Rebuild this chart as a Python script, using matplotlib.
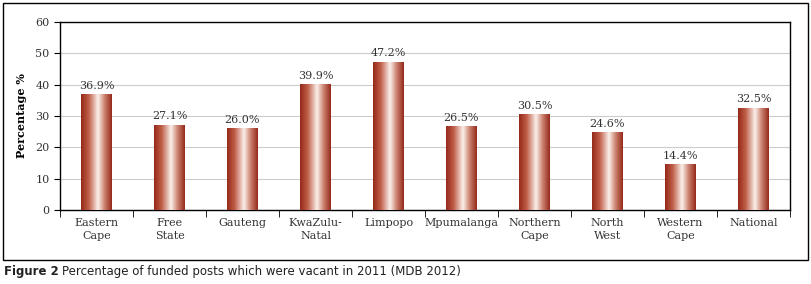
import numpy as np
import matplotlib.pyplot as plt
from matplotlib.colors import LinearSegmentedColormap
from matplotlib.patches import Rectangle

###Data
categories = ['Eastern\nCape', 'Free\nState', 'Gauteng', 'KwaZulu-\nNatal', 'Limpopo',
              'Mpumalanga', 'Northern\nCape', 'North\nWest', 'Western\nCape', 'National']
values = [36.9, 27.1, 26.0, 39.9, 47.2, 26.5, 30.5, 24.6, 14.4, 32.5]
yticks = [0, 10, 20, 30, 40, 50, 60]

plt.rcParams['font.family'] = ['DejaVu Serif']

fig = plt.figure(figsize=(8.12, 2.84), dpi=100)
ax = fig.add_axes([60/812, 74/284, 730/812, 188/284])

#Gradient for the cylinder look of the bars
grad = LinearSegmentedColormap.from_list('cyl', [(0.0, '#962a1a'), (0.25, '#c0604a'),
                                                 (0.55, '#fbf1ec'), (0.75, '#d08a78'),
                                                 (1.0, '#962a1a')])
strip = np.linspace(0, 1, 64).reshape(1, -1)

x = np.arange(len(categories))
bw = 0.42
bars = ax.bar(x, values, width=bw, color='none', zorder=3)
for b, v in zip(bars, values):
    x0 = b.get_x()
    ax.imshow(strip, cmap=grad, extent=[x0, x0 + bw, 0, v], aspect='auto', zorder=3,
              interpolation='bicubic')
    ax.text(b.get_x() + bw/2, v + 1.2, '%.1f%%' % v, ha='center', va='bottom',
            fontsize=8, color='#333333')

#Axis settings
ax.set_xlim(-0.5, len(categories) - 0.5)
ax.set_ylim(0, 60)
ax.set_yticks(yticks)
ax.tick_params(axis='y', labelsize=8, length=4, colors='#333333')
ax.tick_params(axis='y', color='black')
ax.set_xticks(x)
ax.set_xticklabels(categories, fontsize=8, color='#333333', linespacing=1.3)
ax.tick_params(axis='x', length=0, pad=6)
ax.set_xticks(np.arange(-0.5, len(categories)), minor=True)
ax.tick_params(axis='x', which='minor', length=5, color='black')
ax.grid(axis='y', color='#cccccc', linewidth=0.8, zorder=0)
ax.set_axisbelow(True)
for s in ax.spines.values():
    s.set_linewidth(1.0)
ax.set_ylabel('Percentage %', fontsize=8, fontweight='bold', labelpad=6)

#Outer frame and caption
fig.patches.append(Rectangle((3/812, 24/284), 805/812, 257/284, transform=fig.transFigure,
                             fill=False, edgecolor='black', linewidth=1.0))
cap1 = fig.text(4/812, 12/284, 'Figure 2', fontsize=8.5, fontweight='bold',
                family='DejaVu Sans', va='center', color='#222222')
fig.canvas.draw()
bb = cap1.get_window_extent()
fig.text((bb.x1 + 3)/812, 12/284, 'Percentage of funded posts which were vacant in 2011 (MDB 2012)',
         fontsize=8.5, family='DejaVu Sans', va='center', color='#222222')

plt.savefig('out.png', dpi=100)
